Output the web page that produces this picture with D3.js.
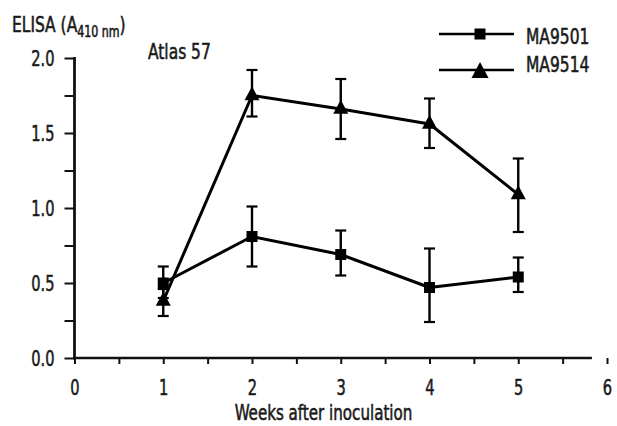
<!DOCTYPE html>
<html>
<head>
<meta charset="utf-8">
<script src="https://cdn.jsdelivr.net/npm/d3@7"></script>
<style>
  html, body { margin: 0; padding: 0; background: #fff; }
  svg { display: block; }
  text {
    font-family: "DejaVu Sans Condensed", "DejaVu Sans", sans-serif; font-stretch: condensed;
    fill: #1a1a1a; stroke: #1a1a1a; stroke-width: 0.55px;
  }
  /* narrow the lettering around each label's own box */
  text.narrow-c { transform-box: fill-box; transform-origin: center; transform: scaleX(0.8); }
  text.narrow-l { transform-box: fill-box; transform-origin: left center; transform: scaleX(0.82); }
  text.narrow-r { transform-box: fill-box; transform-origin: right center; transform: scaleX(0.74); }
  text.digits-c { transform-box: fill-box; transform-origin: center; transform: scaleX(0.74); }
</style>
</head>
<body>
<svg id="chart" width="617" height="426"></svg>
<script>
// Weeks after inoculation at which sera were sampled
const weeks = [1, 2, 3, 4, 5];

// MA9501 (squares): mean ELISA absorbance and error-bar limits
const ma9501Mean = [0.50, 0.81, 0.69, 0.47, 0.54];
const ma9501High = [0.61, 1.01, 0.85, 0.73, 0.67];
const ma9501Low  = [0.40, 0.61, 0.55, 0.24, 0.44];

// MA9514 (triangles): mean ELISA absorbance and error-bar limits
const ma9514Mean = [0.38, 1.75, 1.66, 1.56, 1.09];
const ma9514High = [0.46, 1.92, 1.86, 1.73, 1.33];
const ma9514Low  = [0.28, 1.61, 1.46, 1.40, 0.84];

// Axis ticks
const xTickValues = [0, 1, 2, 3, 4, 5, 6];
const xMinorTicks = [0.5, 1.5, 2.5, 3.5, 4.5, 5.5];
const yTickValues = [0, 0.5, 1.0, 1.5, 2.0];
const yMinorTicks = [0.25, 0.75, 1.25, 1.75];

const seriesNames = ["MA9501", "MA9514"];

const svg = d3.select("#chart");

const x = d3.scaleLinear().domain([0, 6]).range([74.5, 607]);
const y = d3.scaleLinear().domain([0, 2]).range([358, 58]);

const series = [
  { name: seriesNames[0], mean: ma9501Mean, hi: ma9501High, lo: ma9501Low, shape: "square" },
  { name: seriesNames[1], mean: ma9514Mean, hi: ma9514High, lo: ma9514Low, shape: "triangle" }
];

// marker paths, centred on the data point
function squarePath(s) {
  const h = s / 2;
  return `M${-h},${-h}H${h}V${h}H${-h}Z`;
}
function trianglePath(w, h, centroid) {
  // apex up; centroid or box centre at origin
  const top = centroid ? -2 * h / 3 : -h / 2;
  const bot = top + h;
  return `M0,${top}L${w / 2},${bot}L${-w / 2},${bot}Z`;
}

// ---- axes ----
const xAxis = svg.append("g")
  .attr("transform", `translate(0,${y(0)})`)
  .call(d3.axisBottom(x).tickValues(xTickValues).tickFormat(d3.format("d"))
    .tickSize(6).tickPadding(15));
xAxis.select(".domain").remove();
xAxis.selectAll(".tick line").attr("stroke", "#111").attr("stroke-width", 2);
xAxis.selectAll(".tick text").attr("class", "digits-c")
  .style("font-size", "22px").attr("fill", "#1a1a1a");

const xMinor = svg.append("g")
  .attr("transform", `translate(0,${y(0)})`)
  .call(d3.axisBottom(x).tickValues(xMinorTicks).tickFormat("").tickSize(6));
xMinor.select(".domain").remove();
xMinor.selectAll(".tick line").attr("stroke", "#111").attr("stroke-width", 2);

// x baseline stops short of the last tick
svg.append("line")
  .attr("x1", x(0) - 1.5).attr("x2", x(5.83))
  .attr("y1", y(0)).attr("y2", y(0))
  .attr("stroke", "#111").attr("stroke-width", 2.6);

const yAxis = svg.append("g")
  .attr("transform", `translate(${x(0)},0)`)
  .call(d3.axisLeft(y).tickValues(yTickValues).tickFormat(d3.format(".1f"))
    .tickSize(10).tickPadding(10));
yAxis.select(".domain").remove();
yAxis.selectAll(".tick line").attr("stroke", "#111").attr("stroke-width", 2);
yAxis.selectAll(".tick text").attr("class", "narrow-r")
  .style("font-size", "22px").attr("fill", "#1a1a1a");

const yMinor = svg.append("g")
  .attr("transform", `translate(${x(0)},0)`)
  .call(d3.axisLeft(y).tickValues(yMinorTicks).tickFormat("").tickSize(10));
yMinor.select(".domain").remove();
yMinor.selectAll(".tick line").attr("stroke", "#111").attr("stroke-width", 2);

svg.append("line")
  .attr("x1", x(0)).attr("x2", x(0))
  .attr("y1", y(2) - 1).attr("y2", y(0) + 1.3)
  .attr("stroke", "#111").attr("stroke-width", 2.8);

// ---- titles ----
const yTitle = svg.append("text")
  .attr("class", "narrow-l")
  .attr("x", 12).attr("y", 32)
  .style("font-size", "21px");
yTitle.append("tspan").text("ELISA (A");
yTitle.append("tspan").attr("dy", 5).style("font-size", "15px").text("410 nm");
yTitle.append("tspan").attr("dy", -5).text(")");

svg.append("text")
  .attr("class", "narrow-l")
  .attr("x", 148).attr("y", 59)
  .style("font-size", "21px")
  .text("Atlas 57");

svg.append("text")
  .attr("class", "narrow-c")
  .attr("x", 323.5).attr("y", 420)
  .attr("text-anchor", "middle")
  .style("font-size", "21px")
  .text("Weeks after inoculation");

// ---- data ----
const plot = svg.append("g");
const line = d3.line().x((d, i) => x(weeks[i])).y(d => y(d));

series.forEach(s => {
  const g = plot.append("g");
  // error bars
  weeks.forEach((w, i) => {
    const cx = x(w);
    g.append("line").attr("x1", cx).attr("x2", cx)
      .attr("y1", y(s.hi[i])).attr("y2", y(s.lo[i]))
      .attr("stroke", "#000").attr("stroke-width", 2.4);
    [s.hi[i], s.lo[i]].forEach(v => {
      g.append("line").attr("x1", cx - 5.5).attr("x2", cx + 5.5)
        .attr("y1", y(v)).attr("y2", y(v))
        .attr("stroke", "#000").attr("stroke-width", 2.2);
    });
  });
  // connecting line
  g.append("path").datum(s.mean)
    .attr("d", line)
    .attr("fill", "none").attr("stroke", "#000").attr("stroke-width", 3)
    .attr("stroke-linejoin", "round");
  // markers
  g.selectAll("path.marker").data(s.mean).join("path")
    .attr("class", "marker")
    .attr("transform", (d, i) => `translate(${x(weeks[i])},${y(d)})`)
    .attr("d", s.shape === "square" ? squarePath(11) : trianglePath(15, 14, true))
    .attr("fill", "#000");
});

// ---- legend ----
const legend = svg.append("g");
series.forEach((s, i) => {
  const ly = i === 0 ? 34 : 70;
  legend.append("line").attr("x1", 439).attr("x2", 514)
    .attr("y1", ly).attr("y2", ly)
    .attr("stroke", "#000").attr("stroke-width", 2.6);
  legend.append("path")
    .attr("transform", `translate(480,${ly})`)
    .attr("d", s.shape === "square" ? squarePath(11) : trianglePath(17, 16, false))
    .attr("fill", "#000");
  legend.append("text")
    .attr("class", "narrow-l")
    .attr("x", 526).attr("y", i === 0 ? 44 : 72)
    .style("font-size", "21px")
    .text(s.name);
});
</script>
</body>
</html>
